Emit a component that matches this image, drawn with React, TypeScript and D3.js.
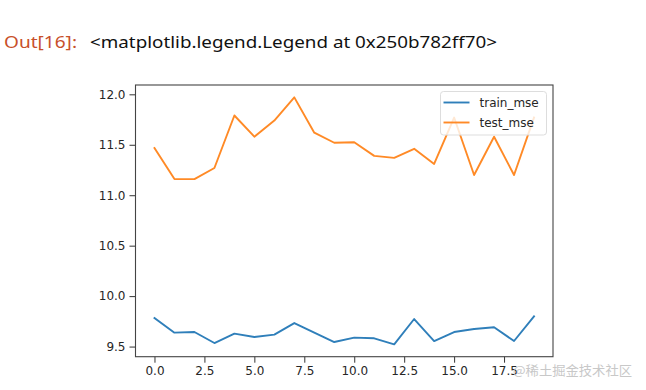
import React, { useRef, useEffect } from "react";
import * as d3 from "d3";

// epoch index 0..19
const epochs = [0, 1, 2, 3, 4, 5, 6, 7, 8, 9, 10, 11, 12, 13, 14, 15, 16, 17, 18, 19];

const trainMse = [
  9.783, 9.638, 9.644, 9.535, 9.628, 9.595, 9.618, 9.733, 9.638, 9.545,
  9.589, 9.582, 9.522, 9.773, 9.555, 9.644, 9.674, 9.691, 9.555, 9.8,
];

const testMse = [
  11.468, 11.16, 11.16, 11.27, 11.79, 11.58, 11.74, 11.97, 11.62, 11.52,
  11.525, 11.39, 11.37, 11.46, 11.31, 11.77, 11.2, 11.58, 11.2, 11.77,
];

const xTicks = [0, 2.5, 5, 7.5, 10, 12.5, 15, 17.5];
const yTicks = [9.5, 10.0, 10.5, 11.0, 11.5, 12.0];

const seriesNames = ["train_mse", "test_mse"];
const colors = { train_mse: "#2f7fba", test_mse: "#ff8a26" };

const App = () => {
  const container = useRef(null);

  const width = 646;
  const height = 390;

  // plot box
  const left = 135.5;
  const right = 553;
  const top = 85;
  const bottom = 356.7;

  useEffect(() => {
    const svg = d3.select(container.current);
    svg.selectAll("*").remove();

    svg.append("rect").attr("width", width).attr("height", height).attr("fill", "#ffffff");

    // notebook output line
    svg
      .append("text")
      .attr("x", 4)
      .attr("y", 48)
      .style("font-family", "'Noto Sans', sans-serif")
      .style("font-size", "17px")
      .style("fill", "#c8502a")
      .attr("textLength", 73)
      .attr("lengthAdjust", "spacingAndGlyphs")
      .text("Out[16]:");
    svg
      .append("text")
      .attr("x", 90)
      .attr("y", 48)
      .style("font-family", "'Noto Sans', sans-serif")
      .style("font-size", "17px")
      .style("fill", "#111111")
      .attr("textLength", 407)
      .attr("lengthAdjust", "spacingAndGlyphs")
      .text("<matplotlib.legend.Legend at 0x250b782ff70>");

    // scales (matplotlib 5% margins)
    const xScale = d3.scaleLinear().domain([-0.95, 19.95]).range([left, right]);
    const yScale = d3.scaleLinear().domain([9.3996, 12.0924]).range([bottom, top]);

    const line = d3
      .line<number>()
      .x((d, i) => xScale(epochs[i]))
      .y((d) => yScale(d));

    const g = svg.append("g");
    [trainMse, testMse].forEach((vals, k) => {
      g.append("path")
        .datum(vals)
        .attr("d", line)
        .attr("fill", "none")
        .attr("stroke", colors[seriesNames[k]])
        .attr("stroke-width", 1.9)
        .attr("stroke-linejoin", "round")
        .attr("stroke-linecap", "square");
    });

    // axes
    const xAxis = d3
      .axisBottom(xScale)
      .tickValues(xTicks)
      .tickFormat(d3.format(".1f"))
      .tickSizeOuter(0)
      .tickSize(6)
      .tickPadding(4);
    const yAxis = d3
      .axisLeft(yScale)
      .tickValues(yTicks)
      .tickFormat(d3.format(".1f"))
      .tickSizeOuter(0)
      .tickSize(6)
      .tickPadding(4);

    const gx = svg.append("g").attr("transform", `translate(0, ${bottom})`).call(xAxis);
    const gy = svg.append("g").attr("transform", `translate(${left}, 0)`).call(yAxis);
    [gx, gy].forEach((ax) => {
      ax.select(".domain").remove();
      ax.selectAll("line").attr("stroke", "#333333").attr("stroke-width", 1);
      ax.selectAll("text")
        .style("font-family", "'DejaVu Sans', sans-serif")
        .style("font-size", "12px")
        .style("fill", "#262626");
    });

    // frame
    svg
      .append("rect")
      .attr("x", left)
      .attr("y", top)
      .attr("width", right - left)
      .attr("height", bottom - top)
      .attr("fill", "none")
      .attr("stroke", "#444444")
      .attr("stroke-width", 1.1);

    // legend
    const legend = svg.append("g").attr("transform", "translate(440.5, 91.5)");
    legend
      .append("rect")
      .attr("width", 106)
      .attr("height", 43.5)
      .attr("rx", 3)
      .attr("fill", "#ffffff")
      .attr("fill-opacity", 0.8)
      .attr("stroke", "#dddddd")
      .attr("stroke-width", 1);
    legend
      .selectAll("line.key")
      .data(seriesNames)
      .enter()
      .append("line")
      .attr("x1", 3)
      .attr("x2", 29)
      .attr("y1", (d, i) => 11 + i * 20)
      .attr("y2", (d, i) => 11 + i * 20)
      .attr("stroke", (d) => colors[d])
      .attr("stroke-width", 1.9);
    legend
      .selectAll("text")
      .data(seriesNames)
      .enter()
      .append("text")
      .attr("x", 39)
      .attr("y", (d, i) => 15.5 + i * 20)
      .style("font-family", "'DejaVu Sans', sans-serif")
      .style("font-size", "12px")
      .style("fill", "#262626")
      .text((d) => d);

    // watermark
    svg
      .append("text")
      .attr("x", 513)
      .attr("y", 375)
      .style("font-family", "'Noto Sans CJK SC', sans-serif")
      .style("font-size", "13px")
      .style("fill", "#c8c8c8")
      .attr("textLength", 119)
      .attr("lengthAdjust", "spacingAndGlyphs")
      .text("@稀土掘金技术社区");
  }, []);

  return (
    <div style={{ position: "absolute", left: 0, top: 0, width: width, height: height }}>
      <svg ref={container} width={width} height={height} style={{ display: "block" }} />
    </div>
  );
};

export default App;
